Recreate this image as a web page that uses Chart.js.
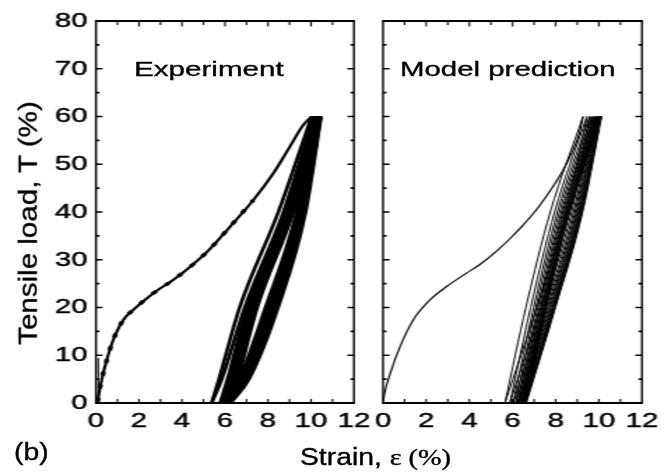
<!DOCTYPE html>
<html><head><meta charset="utf-8">
<script src="https://cdn.jsdelivr.net/npm/chart.js@4/dist/chart.umd.min.js"></script>
<style>
html,body{margin:0;padding:0;background:#fff;}
#wrap{position:relative;width:671px;height:475px;overflow:hidden;background:#fff;}
#stretch{position:absolute;left:0;top:0;width:480px;height:475px;transform:scaleX(1.3979167);transform-origin:0 0;}
#stretch canvas{position:absolute;left:0;top:0;}
.t{position:absolute;white-space:nowrap;font-family:"Liberation Sans",Arial,sans-serif;color:#000;line-height:1;transform-origin:0 0;-webkit-text-stroke:0.35px #000;}
.serif{font-family:"Liberation Serif","Times New Roman",serif;}
</style></head><body>
<div id="wrap">
 <div id="stretch">
  <canvas id="c1" width="480" height="475" style="width:480px;height:475px"></canvas>
  <canvas id="c2" width="480" height="475" style="width:480px;height:475px"></canvas>
 </div>
 <div class="t" style="left:134px;top:58.2px;font-size:21px;transform:scaleX(1.41);">Experiment</div>
 <div class="t" style="left:400px;top:58.2px;font-size:21px;transform:scaleX(1.40);">Model prediction</div>
 <div class="t" style="left:300px;top:445.5px;font-size:23px;transform:scaleX(1.23);">Strain, <span class="serif">ε (%)</span></div>
 <div class="t" style="left:14px;top:440.5px;font-size:23px;transform:scaleX(1.23);">(b)</div>
 <div class="t" style="left:27.8px;top:223px;font-size:26.5px;transform-origin:50% 50%;transform:translate(-50%,-50%) rotate(-90deg) scaleX(1.115);">Tensile load, T (%)</div>
</div>
<script>
// ---------- data ----------
const strainTicks = [0, 2, 4, 6, 8, 10, 12];
const strainMinor = [1, 3, 5, 7, 9, 11];
const loadTicks = [0, 10, 20, 30, 40, 50, 60, 70, 80];
const loadMinor = [5, 15, 25, 35, 45, 55, 65, 75];

// Experiment: first loading curve
const expLoadX = [0.08, 0.11, 0.26, 0.50, 0.80, 1.27, 1.73, 2.67, 3.60, 4.37, 5.20, 6.23, 7.32, 8.25, 9.02, 9.64, 10.03];
const expLoadY = [0.3, 1.3, 4.8, 9.0, 13.2, 17.4, 19.5, 23.0, 25.8, 28.5, 31.8, 36.9, 42.5, 48.1, 53.7, 58.2, 60.0];
// Experiment: short vertical trace near the origin
const expTraceX = [0.11, 0.11];
const expTraceY = [1.0, 9.4];
// Experiment cycles: strain at load levels
const expLevels = [0, 5, 20, 40, 60];
const expUnload = [
  [5.38, 5.72, 6.68, 8.48, 10.03],
  [5.77, 6.12, 7.02, 8.80, 10.13],
  [5.92, 6.25, 7.12, 8.86, 10.20],
  [6.00, 6.33, 7.20, 8.93, 10.26],
  [6.06, 6.40, 7.28, 9.00, 10.31],
  [6.12, 6.46, 7.34, 9.05, 10.35],
  [6.17, 6.51, 7.40, 9.10, 10.39],
  [6.22, 6.56, 7.45, 9.14, 10.42],
  [6.27, 6.60, 7.50, 9.18, 10.45]
];
const expReload = [
  [5.38, 5.85, 6.92, 8.72, 10.13],
  [5.77, 6.65, 7.88, 9.33, 10.20],
  [5.92, 6.72, 7.98, 9.41, 10.26],
  [6.00, 6.80, 8.08, 9.48, 10.31],
  [6.06, 6.87, 8.16, 9.54, 10.35],
  [6.12, 6.94, 8.24, 9.60, 10.39],
  [6.17, 7.00, 8.32, 9.65, 10.42],
  [6.22, 7.06, 8.40, 9.70, 10.45],
  [6.27, 7.12, 8.47, 9.75, 10.47]
];

// Model prediction: first loading curve
const modelLoadX = [0, 0.08, 0.32, 0.79, 1.40, 2.18, 2.95, 3.87, 4.49, 5.26, 5.88, 6.50, 7.20, 7.80, 8.35, 8.81, 9.10, 9.27];
const modelLoadY = [0, 2.2, 6.0, 11.8, 17.4, 21.6, 24.4, 27.2, 29.0, 31.8, 34.4, 37.3, 41.0, 44.8, 48.8, 53.0, 56.5, 60.0];
// Model cycles: strain at load levels
const modelLevels = [0, 20, 40, 60];
const modelUnload = [
  [5.65, 6.62, 7.75, 9.27],
  [5.88, 6.84, 7.95, 9.45],
  [6.03, 6.98, 8.08, 9.57],
  [6.14, 7.08, 8.18, 9.66],
  [6.23, 7.17, 8.27, 9.74],
  [6.30, 7.24, 8.33, 9.80],
  [6.36, 7.30, 8.39, 9.86],
  [6.42, 7.36, 8.44, 9.91],
  [6.47, 7.40, 8.49, 9.95],
  [6.51, 7.44, 8.53, 9.99],
  [6.55, 7.48, 8.57, 10.03],
  [6.58, 7.51, 8.60, 10.06],
  [6.61, 7.54, 8.63, 10.09],
  [6.64, 7.57, 8.65, 10.11]
];
const modelReload = [
  [5.65, 7.12, 8.49, 9.45],
  [5.88, 7.31, 8.64, 9.57],
  [6.03, 7.44, 8.74, 9.66],
  [6.14, 7.54, 8.83, 9.74],
  [6.23, 7.62, 8.90, 9.80],
  [6.30, 7.68, 8.96, 9.86],
  [6.36, 7.74, 9.01, 9.91],
  [6.42, 7.79, 9.06, 9.95],
  [6.47, 7.84, 9.10, 9.99],
  [6.51, 7.88, 9.14, 10.03],
  [6.55, 7.91, 9.17, 10.06],
  [6.58, 7.94, 9.20, 10.09],
  [6.61, 7.97, 9.22, 10.11],
  [6.64, 7.99, 9.25, 10.13]
];

// ---------- chart building ----------
const S = 671 / 480; // horizontal stretch of the drawing
Chart.defaults.font.family = '"Liberation Sans", Arial, sans-serif';
Chart.defaults.color = '#000';

const pts = (xs, ys) => xs.map((x, i) => ({x: x, y: ys[i]}));
const line = (data, w, extra) => Object.assign({data: data, showLine: true, pointRadius: 0, borderColor: '#000', backgroundColor: '#000', borderWidth: w, cubicInterpolationMode: 'monotone', fill: false}, extra || {});

const leftSets = [];
leftSets.push(line(pts(expLoadX, expLoadY), 2.2));
leftSets.push(line(pts(expLoadX.slice(0, 13), expLoadY.slice(0, 13)), 3.4, {borderDash: [4, 9]}));
leftSets.push(line(pts(expTraceX, expTraceY), 1, {cubicInterpolationMode: 'default', tension: 0}));
expUnload.forEach(r => leftSets.push(line(pts(r, expLevels), 2.6)));
expReload.forEach(r => leftSets.push(line(pts(r, expLevels), 2.6)));

const rightSets = [];
rightSets.push(line(pts(modelLoadX, modelLoadY), 1.2));
modelUnload.forEach(r => rightSets.push(line(pts(r, modelLevels), 1.0)));
modelReload.forEach(r => rightSets.push(line(pts(r, modelLevels), 1.0)));

const framePlugin = {
  id: 'frame',
  afterDatasetsDraw(chart) {
    const ctx = chart.ctx, a = chart.chartArea, xs = chart.scales.x, ys = chart.scales.y;
    ctx.save();
    ctx.strokeStyle = '#000';
    ctx.lineCap = 'butt';
    ctx.lineWidth = 2;
    ctx.beginPath();
    ctx.moveTo(a.left - 0.7, a.top); ctx.lineTo(a.right + 0.7, a.top);
    ctx.moveTo(a.left - 0.7, a.bottom); ctx.lineTo(a.right + 0.7, a.bottom);
    ctx.stroke();
    ctx.lineWidth = 1.45;
    ctx.beginPath();
    ctx.moveTo(a.left, a.top); ctx.lineTo(a.left, a.bottom);
    ctx.moveTo(a.right, a.top); ctx.lineTo(a.right, a.bottom);
    ctx.stroke();
    // x ticks (top and bottom, inward)
    ctx.lineWidth = 1.1;
    ctx.beginPath();
    const xt = strainTicks.slice(1, -1).map(v => [v, 5.5]).concat(strainMinor.map(v => [v, 4]));
    xt.forEach(([v, len]) => {
      const p = xs.getPixelForValue(v);
      ctx.moveTo(p, a.top); ctx.lineTo(p, a.top + len);
      ctx.moveTo(p, a.bottom); ctx.lineTo(p, a.bottom - 4);
    });
    ctx.stroke();
    // y ticks (left and right, inward)
    ctx.lineWidth = 1.6;
    ctx.beginPath();
    const yt = loadTicks.slice(1, -1).map(v => [v, 6.5 / S]).concat(loadMinor.map(v => [v, 3.5 / S]));
    yt.forEach(([v, len]) => {
      const p = ys.getPixelForValue(v);
      ctx.moveTo(a.left, p); ctx.lineTo(a.left + len, p);
      ctx.moveTo(a.right, p); ctx.lineTo(a.right - len, p);
    });
    ctx.stroke();
    ctx.restore();
  }
};

const tickFont = {size: 21};
function xScale() {
  return {
    type: 'linear', min: 0, max: 12,
    afterBuildTicks: s => { s.ticks = strainTicks.map(v => ({value: v})); },
    ticks: {padding: 6, color: '#000', font: tickFont, textStrokeColor: '#000', textStrokeWidth: 0.45, autoSkip: false, maxRotation: 0, minRotation: 0, callback: v => String(v)},
    grid: {display: false, drawTicks: false},
    border: {display: false},
    afterFit: s => { s.height = 72; }
  };
}
function baseOptions(padding, yScale) {
  return {
    responsive: false, animation: false, devicePixelRatio: 1, events: [],
    layout: {padding: padding},
    plugins: {legend: {display: false}, tooltip: {enabled: false}},
    scales: {x: xScale(), y: yScale}
  };
}

new Chart(document.getElementById('c1'), {
  type: 'scatter',
  data: {datasets: leftSets},
  options: baseOptions({left: 0, right: 480 - 354 / S, top: 21, bottom: 0}, {
    type: 'linear', min: 0, max: 80,
    afterBuildTicks: s => { s.ticks = loadTicks.map(v => ({value: v})); },
    ticks: {padding: 6, color: '#000', font: tickFont, textStrokeColor: '#000', textStrokeWidth: 0.45, autoSkip: false, callback: v => String(v)},
    grid: {display: false, drawTicks: false},
    border: {display: false},
    afterFit: s => { s.width = 96 / S; }
  }),
  plugins: [framePlugin]
});

new Chart(document.getElementById('c2'), {
  type: 'scatter',
  data: {datasets: rightSets},
  options: baseOptions({left: 383 / S, right: 480 - 642 / S, top: 21, bottom: 0}, {
    type: 'linear', min: 0, max: 80, display: false
  }),
  plugins: [framePlugin]
});
</script>
</body></html>
